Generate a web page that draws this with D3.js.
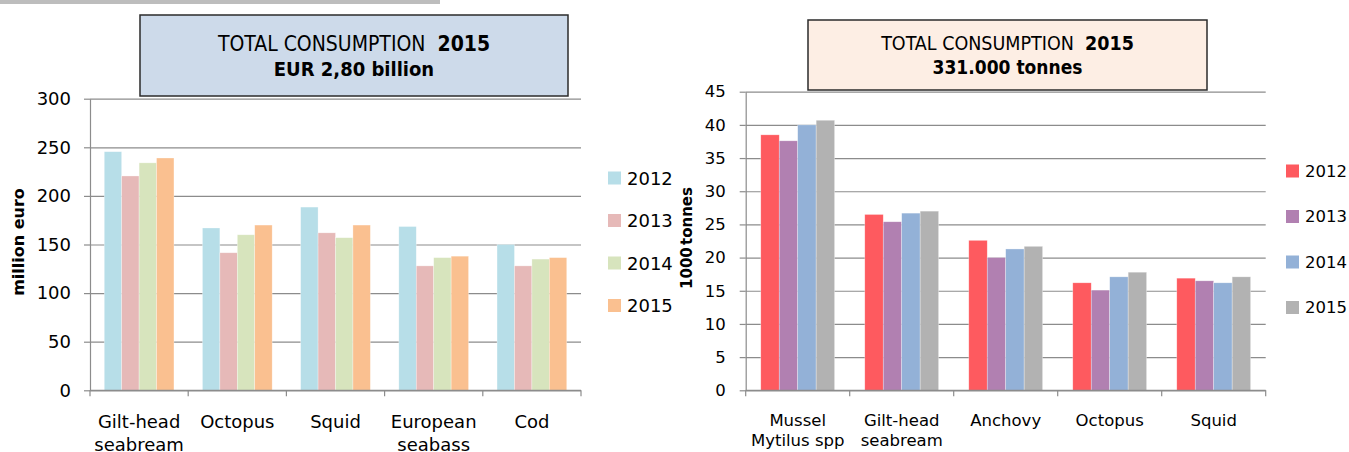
<!DOCTYPE html>
<meta charset="utf-8">
<style>
  body { margin: 0; background: #fff; }
  text { font-family: "DejaVu Sans", Verdana, sans-serif; fill: #000; }
  .grid line { stroke: #8c8c8c; stroke-width: 1.2; }
  .grid path { display: none; }
  .ax path, .ax line { stroke: #8c8c8c; stroke-width: 1.2; }
  .ttl { font-family: "DejaVu Sans Condensed", "DejaVu Sans", sans-serif; }
</style>
<body>
<div id="chart"></div>
<script src="https://d3js.org/d3.v7.min.js"></script>
<script>
var years = ["2012", "2013", "2014", "2015"];

// value (million euro)
var valueCategories = ["Gilt-head\nseabream", "Octopus", "Squid", "European\nseabass", "Cod"];
var value2012 = [245.5, 167, 188.5, 168.5, 150];
var value2013 = [220.5, 141.5, 162, 128, 128];
var value2014 = [234, 160, 157, 136.5, 135];
var value2015 = [239, 170, 170, 138, 136.5];
var valueTicks = [0, 50, 100, 150, 200, 250, 300];

// volume (1000 tonnes)
var volumeCategories = ["Mussel\nMytilus spp", "Gilt-head\nseabream", "Anchovy", "Octopus", "Squid"];
var volume2012 = [38.5, 26.5, 22.6, 16.2, 16.9];
var volume2013 = [37.6, 25.4, 20, 15.1, 16.5];
var volume2014 = [40, 26.7, 21.3, 17.1, 16.2];
var volume2015 = [40.7, 27, 21.7, 17.8, 17.1];
var volumeTicks = [0, 5, 10, 15, 20, 25, 30, 35, 40, 45];

var svg = d3.select("#chart").append("svg")
    .attr("width", 1349)
    .attr("height", 452);

// grey rule at the very top
svg.append("rect").attr("x", 0).attr("y", 0).attr("width", 440).attr("height", 4).attr("fill", "#bdbdbd");

function drawChart(opt) {
  var g = svg.append("g");
  var x0 = d3.scaleBand().domain(opt.categories).range([opt.left, opt.right]);
  var bw = x0.bandwidth();
  var x1 = d3.scaleBand().domain(years).range([bw * 0.145, bw * 0.855]);
  var y = d3.scaleLinear().domain([0, opt.max]).range([opt.bottom, opt.top]);

  // gridlines
  g.append("g")
    .attr("class", "grid")
    .attr("transform", "translate(" + opt.left + ",0)")
    .call(d3.axisLeft(y).tickValues(opt.ticks).tickSize(-(opt.right - opt.left)).tickFormat(""));

  // bars
  var rows = opt.categories.map(function(c, i) {
    return years.map(function(yr, j) { return {cat: c, year: yr, value: opt.series[j][i]}; });
  });
  g.append("g").selectAll("g")
    .data(rows)
    .enter().append("g")
    .attr("transform", function(d, i) { return "translate(" + x0(opt.categories[i]) + ",0)"; })
    .selectAll("rect")
    .data(function(d) { return d; })
    .enter().append("rect")
    .attr("x", function(d) { return x1(d.year); })
    .attr("width", x1.bandwidth())
    .attr("y", function(d) { return y(d.value); })
    .attr("height", function(d) { return y(0) - y(d.value); })
    .attr("fill", function(d, j) { return opt.colors[j]; })
    .attr("stroke", "#fff")
    .attr("stroke-opacity", 0.5)
    .attr("stroke-width", 0.6);

  // y axis
  var ya = g.append("g")
    .attr("class", "ax")
    .attr("transform", "translate(" + opt.left + ",0)")
    .call(d3.axisLeft(y).tickValues(opt.ticks).tickSize(6).tickSizeOuter(0).tickPadding(opt.tickPad));
  ya.selectAll("text").style("font-size", opt.fontSize + "px").attr("fill", "#000");

  // x axis: baseline and separators
  var bounds = opt.categories.map(function(c) { return x0(c); }).concat([opt.right]);
  g.append("line").attr("class", "ax")
    .attr("x1", opt.left).attr("x2", opt.right)
    .attr("y1", y(0)).attr("y2", y(0))
    .attr("stroke", "#8c8c8c").attr("stroke-width", 1.2);
  g.selectAll(".sep").data(bounds).enter().append("line")
    .attr("x1", function(d) { return d; }).attr("x2", function(d) { return d; })
    .attr("y1", y(0)).attr("y2", y(0) + 6)
    .attr("stroke", "#8c8c8c").attr("stroke-width", 1.2);

  // category labels
  var lab = g.selectAll(".cat").data(opt.categories).enter().append("text")
    .attr("text-anchor", "middle")
    .style("font-size", opt.fontSize + "px")
    .attr("transform", function(d) { return "translate(" + (x0(d) + bw / 2) + "," + opt.labelY + ")"; });
  lab.selectAll("tspan")
    .data(function(d) { return d.split("\n"); })
    .enter().append("tspan")
    .attr("x", 0)
    .attr("y", function(d, i) { return i * opt.lineH; })
    .text(function(d) { return d; });

  // y title
  g.append("text")
    .attr("transform", "translate(" + opt.titleX + "," + opt.titleY + ") rotate(-90)")
    .attr("text-anchor", "middle")
    .attr("dominant-baseline", "central")
    .style("font-size", opt.yTitleSize + "px")
    .style("font-weight", "bold")
    .style("word-spacing", opt.wordSp + "px")
    .text(opt.yTitle);

  // legend
  var leg = g.selectAll(".leg").data(years).enter().append("g")
    .attr("transform", function(d, i) { return "translate(" + opt.legX + "," + (opt.legY + i * opt.legStep) + ")"; });
  leg.append("rect").attr("x", 0).attr("y", -6.5).attr("width", 13).attr("height", 13)
    .attr("fill", function(d, i) { return opt.colors[i]; });
  leg.append("text").attr("x", 19).attr("dominant-baseline", "central")
    .style("font-size", opt.legSize + "px")
    .text(function(d) { return d; });

  // title box
  var b = opt.box;
  g.append("rect").attr("x", b.x).attr("y", b.y).attr("width", b.w).attr("height", b.h)
    .attr("fill", b.fill).attr("stroke", "#2b2b2b").attr("stroke-width", 1.5);
  var t1 = g.append("text").attr("class", "ttl").attr("x", b.x + b.w / 2).attr("y", b.line1)
    .attr("text-anchor", "middle").style("font-size", b.size1 + "px");
  t1.append("tspan").text("TOTAL CONSUMPTION\u00a0\u00a0");
  t1.append("tspan").style("font-weight", "bold").text("2015");
  g.append("text").attr("class", "ttl").attr("x", b.x + b.w / 2).attr("y", b.line2)
    .attr("text-anchor", "middle").style("font-size", b.size2 + "px").style("font-weight", "bold")
    .text(b.text2);
}

drawChart({
  categories: valueCategories,
  series: [value2012, value2013, value2014, value2015],
  colors: ["#b7dee8", "#e6b9b8", "#d7e4bd", "#fac090"],
  ticks: valueTicks, max: 300,
  left: 90, right: 581, top: 98.7, bottom: 390.3,
  fontSize: 18, tickPad: 13, labelY: 428, lineH: 23,
  yTitle: "million euro", yTitleSize: 16, wordSp: 0, titleX: 18, titleY: 242,
  legX: 608, legY: 178, legStep: 42.5, legSize: 18,
  box: {x: 140, y: 15, w: 428, h: 81, fill: "#cddaea", line1: 51, line2: 76,
        size1: 21, size2: 20, text2: "EUR 2,80 billion"}
});

drawChart({
  categories: volumeCategories,
  series: [volume2012, volume2013, volume2014, volume2015],
  colors: ["#fe5a5f", "#b180b1", "#93b1d7", "#b2b2b2"],
  ticks: volumeTicks, max: 45,
  left: 745.7, right: 1265.7, top: 91.7, bottom: 390.3,
  fontSize: 16.5, tickPad: 14, labelY: 426, lineH: 20,
  yTitle: "1000 tonnes", yTitleSize: 15, wordSp: -3, titleX: 687, titleY: 238,
  legX: 1286, legY: 171, legStep: 45.5, legSize: 16.5,
  box: {x: 808, y: 20, w: 399, h: 70, fill: "#fdeee4", line1: 50, line2: 74,
        size1: 19.5, size2: 19, text2: "331.000 tonnes"}
});
</script>
</body>
